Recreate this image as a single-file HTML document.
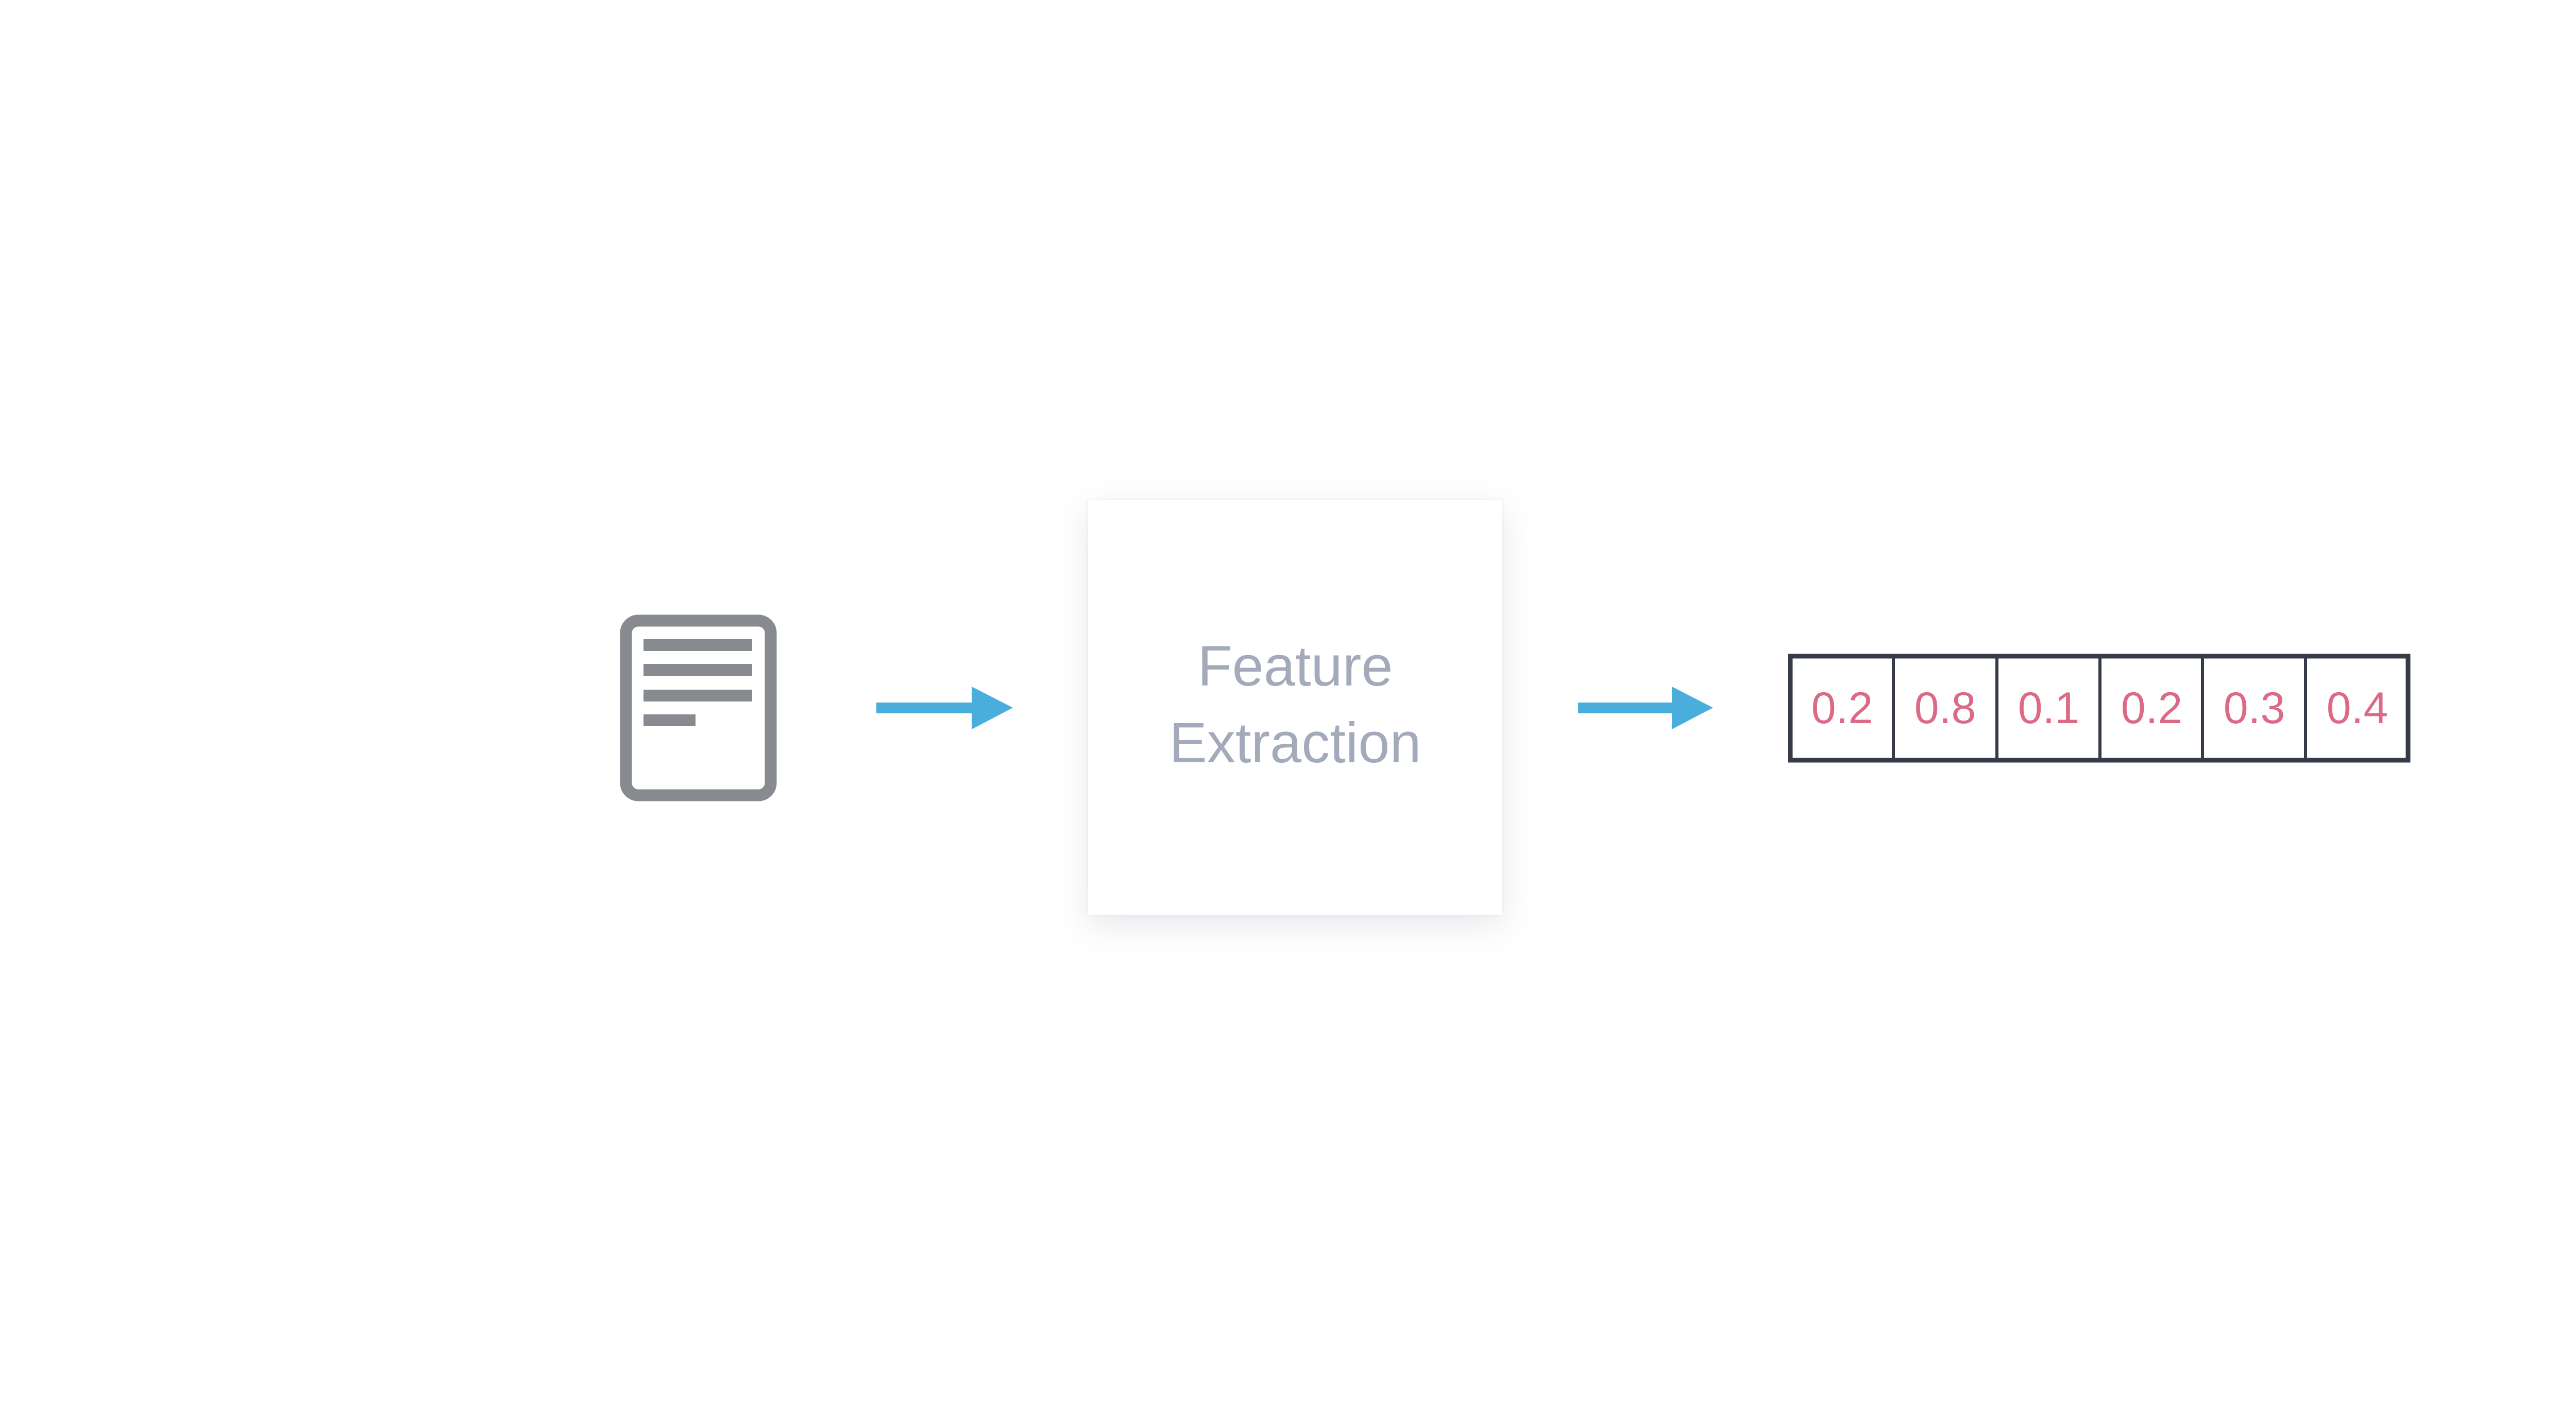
<!DOCTYPE html>
<html><head><meta charset="utf-8"><style>
html,body{margin:0;padding:0;background:#fff;}
body{width:5046px;height:2724px;position:relative;overflow:hidden;font-family:"Liberation Sans",sans-serif;}
.box{position:absolute;left:2112px;top:971px;width:804px;height:805px;background:#fff;box-shadow:0 20px 60px rgba(120,130,150,0.18),0 0 6px rgba(120,130,150,0.12);}
.ft{position:absolute;left:0;width:100%;text-align:center;color:#a3abbb;font-size:110px;font-weight:300;line-height:1;}
.cell{position:absolute;top:1274px;height:202px;width:201px;text-align:center;line-height:202px;color:#dc6a87;font-size:86px;}
</style></head><body>
<svg width="5046" height="2724" style="position:absolute;left:0;top:0">
  <rect x="1215" y="1205" width="281" height="339" rx="24" fill="#fff" stroke="#878b90" stroke-width="23"/>
  <rect x="1249" y="1241" width="211" height="23" fill="#878b90"/>
  <rect x="1249" y="1289" width="211" height="23" fill="#878b90"/>
  <rect x="1249" y="1339" width="211" height="23" fill="#878b90"/>
  <rect x="1249" y="1387" width="101" height="23" fill="#878b90"/>
  <rect x="1701" y="1364" width="190" height="21" fill="#4aaedc"/>
  <polygon points="1886,1333 1966,1374 1886,1416" fill="#4aaedc"/>
  <rect x="3063" y="1364" width="186" height="21" fill="#4aaedc"/>
  <polygon points="3245,1333 3325,1374 3245,1416" fill="#4aaedc"/>
  <rect x="3475" y="1274" width="1199" height="202" fill="none" stroke="#363b47" stroke-width="9"/>
  <g stroke="#363b47" stroke-width="6">
    <line x1="3675" y1="1274" x2="3675" y2="1476"/>
    <line x1="3876" y1="1274" x2="3876" y2="1476"/>
    <line x1="4076" y1="1274" x2="4076" y2="1476"/>
    <line x1="4275" y1="1274" x2="4275" y2="1476"/>
    <line x1="4475" y1="1274" x2="4475" y2="1476"/>
  </g>
</svg>
<div class="box">
  <div class="ft" style="top:268px">Feature</div>
  <div class="ft" style="top:417px">Extraction</div>
</div>
<div class="cell" style="left:3475px">0.2</div>
<div class="cell" style="left:3675px">0.8</div>
<div class="cell" style="left:3876px">0.1</div>
<div class="cell" style="left:4076px">0.2</div>
<div class="cell" style="left:4275px">0.3</div>
<div class="cell" style="left:4475px">0.4</div>
</body></html>
